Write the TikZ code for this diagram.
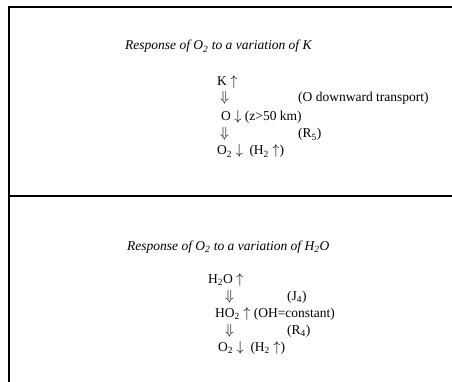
\documentclass[tikz,border=0pt]{standalone}
\usepackage{fontspec}
\setmainfont{Liberation Serif}
\tikzset{
  txt/.style={anchor=base west, inner sep=0pt, font=\fontsize{13.5}{16}\selectfont},
  ttl/.style={txt, font=\fontsize{13.5}{16}\selectfont\itshape},
  frame/.style={line width=1.1pt, black}
}
\newcommand{\sbs}[1]{\textsubscript{#1}}
\begin{document}
\begin{tikzpicture}[x=1pt,y=-1pt]
\useasboundingbox (0,0) rectangle (452,382);
% frame
\coordinate (tl) at (9,7);
\coordinate (tr) at (452,7);
\coordinate (bl) at (9,382);
\coordinate (ml) at (9,196);
\coordinate (mr) at (452,196);
\draw[frame] (tr) -- (tl) -- (bl);
\draw[frame] (ml) -- (mr);
% upper panel
\node[ttl] (t1) at (125,50) {Response of O\sbs{2} to a variation of K};
\node[txt] (k) at (217,86) {K $\uparrow$};
\node[txt] (d1) at (220,102) {$\Downarrow$};
\node[txt] (l1) at (298,102) {(O downward transport)};
\node[txt] (o) at (221,121) {O $\downarrow$\ (z>50 km)};
\node[txt] (d2) at (220,138) {$\Downarrow$};
\node[txt] (l2) at (298,138) {(R\sbs{5})};
\node[txt] (o2a) at (217,155) {O\sbs{2} $\downarrow$\ \ (H\sbs{2} $\uparrow$)};
% lower panel
\node[ttl] (t2) at (127,250) {Response of O\sbs{2} to a variation of H\sbs{2}O};
\node[txt] (h2o) at (208,283) {H\sbs{2}O $\uparrow$};
\node[txt] (d3) at (225,300) {$\Downarrow$};
\node[txt] (l3) at (287,300) {(J\sbs{4})};
\node[txt] (ho2) at (215,317) {HO\sbs{2} $\uparrow$\ (OH=constant)};
\node[txt] (d4) at (225,334) {$\Downarrow$};
\node[txt] (l4) at (287,334) {(R\sbs{4})};
\node[txt] (o2b) at (218,351) {O\sbs{2} $\downarrow$\ \ (H\sbs{2} $\uparrow$)};
\end{tikzpicture}
\end{document}
